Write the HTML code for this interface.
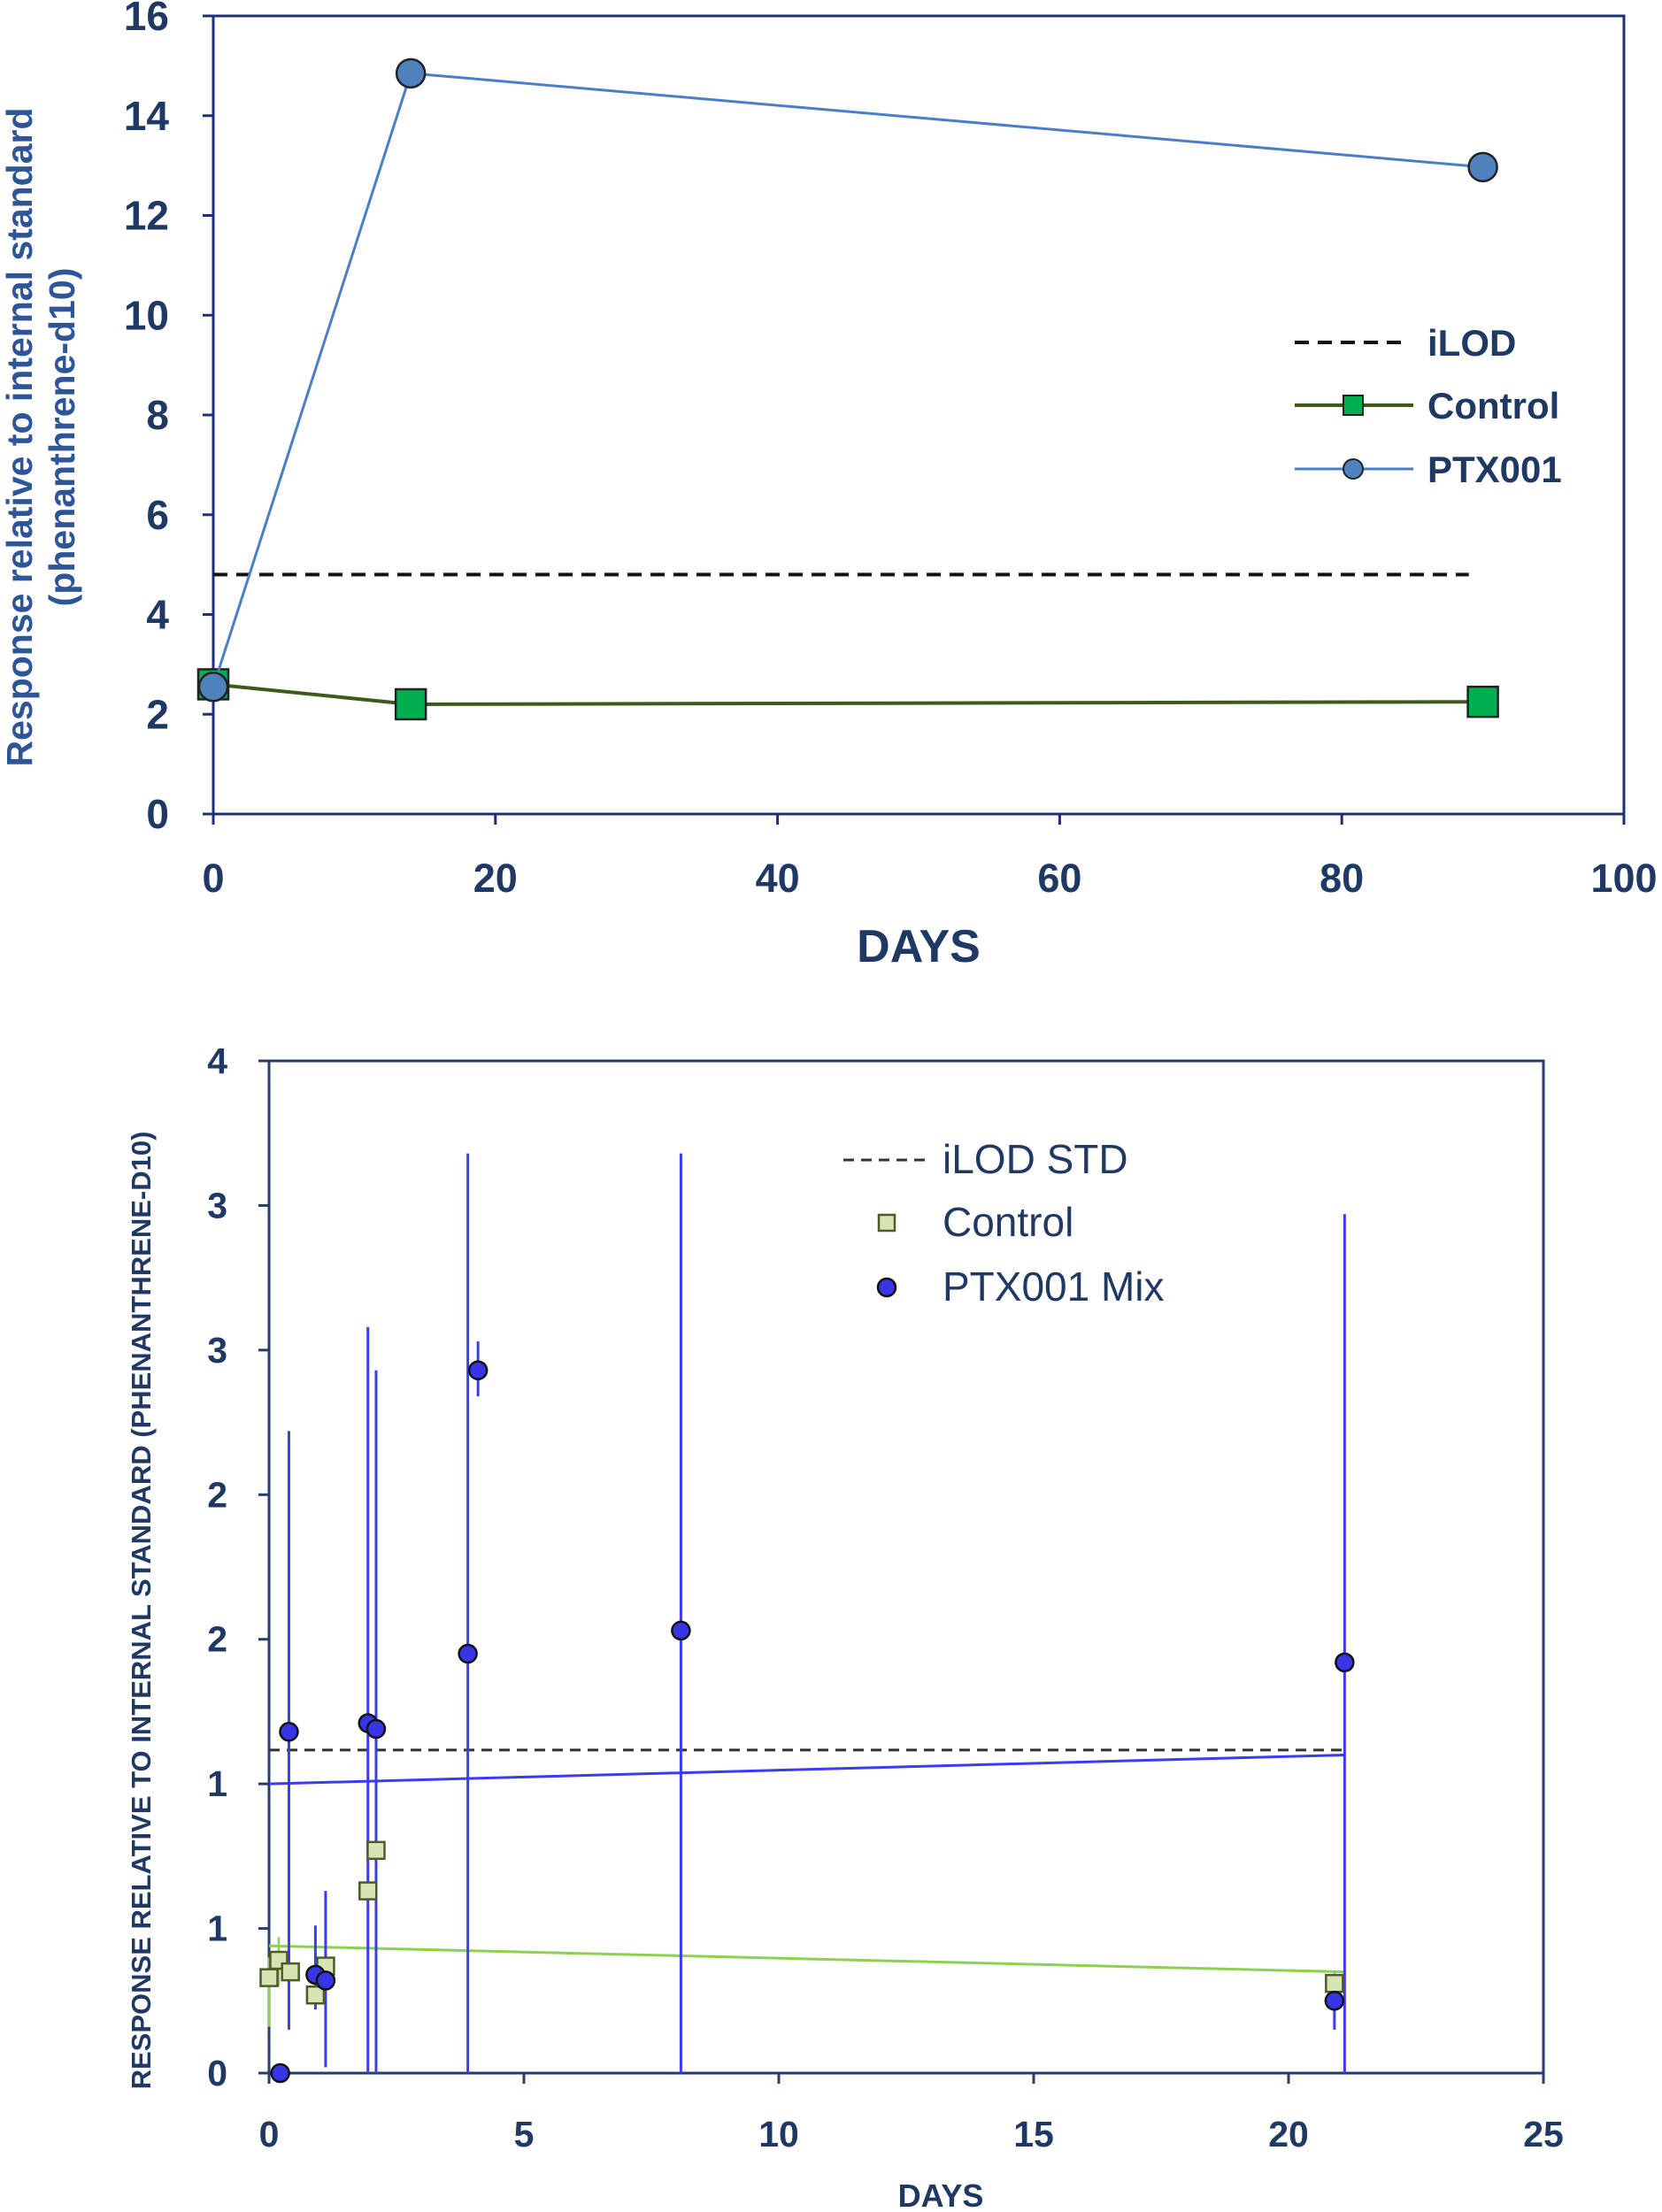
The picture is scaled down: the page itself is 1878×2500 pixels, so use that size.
<!DOCTYPE html>
<html><head><meta charset="utf-8"><style>
html,body{margin:0;padding:0;background:#fff}
svg{display:block}
text{font-family:"Liberation Sans Narrow","Liberation Sans",sans-serif}
</style></head><body>
<svg id="c" width="1878" height="2500" viewBox="0 0 1878 2500"></svg>
<script>
// ---- Top chart data ----
const topXTicks=[0,20,40,60,80,100];
const topYTicks=[0,2,4,6,8,10,12,14,16];
const topDays=[0,14,90];
const topControl=[2.6,2.2,2.25];
const topPTX=[2.55,14.85,12.97];
const topILOD=4.8;
const topILODEnd=89;
// ---- Bottom chart data ----
const botXTicks=[0,5,10,15,20,25];
const botYTicks=[0,0.5,1,1.5,2,2.5,3,3.5];
const botYLabels=["0","1","1","2","2","3","3","4"];
const ptxDays=[0.22,0.39,0.91,1.11,1.94,2.10,3.90,4.10,8.08,20.9,21.1];
const ptxVals=[0,1.18,0.34,0.32,1.21,1.19,1.45,2.43,1.53,0.25,1.42];
const ptxHi=[0,2.22,0.51,0.63,2.58,2.43,3.18,2.53,3.18,0.25,2.97];
const ptxLo=[0,0.15,0.22,0.02,0,0,0,2.34,0,0.15,0];
const ctrlDays=[0,0.19,0.42,0.91,1.11,1.94,2.10,20.9];
const ctrlVals=[0.33,0.39,0.35,0.27,0.37,0.63,0.77,0.31];
const ctrlHi=[0.4,0.47,0.38,0.3,0.4,0.65,0.79,0.35];
const ctrlLo=[0.16,0.3,0.32,0.24,0.34,0.61,0.75,0.28];
const ptxTrend=[1.0,1.10];
const ctrlTrend=[0.44,0.35];
const trendX=[0,21.1];
const botILOD=1.117;
const botILODEnd=21.1;

const NS="http://www.w3.org/2000/svg";
const svg=document.getElementById('c');
function mk(tag,attrs,parent){const e=document.createElementNS(NS,tag);for(const k in attrs)e.setAttribute(k,attrs[k]);(parent||svg).appendChild(e);return e;}
function txt(s,attrs,parent){const e=mk('text',attrs,parent);e.textContent=s;return e;}

// ===== TOP =====
const T={l:241,r:1835,t:18,b:920,x0:0,x1:100,y0:0,y1:16};
const tx=v=>T.l+(v-T.x0)/(T.x1-T.x0)*(T.r-T.l);
const ty=v=>T.b-(v-T.y0)/(T.y1-T.y0)*(T.b-T.t);
const navy="#1f3864";
let g=mk('g',{});


let e=mk('rect',{x:T.l,y:T.t,width:T.r-T.l,height:T.b-T.t,fill:'none',stroke:'#1f2f7a','stroke-width':3},g);

topYTicks.forEach(v=>{
  mk('line',{x1:T.l-12,x2:T.l,y1:ty(v),y2:ty(v),stroke:'#1f2f7a','stroke-width':3},g);
  e=txt(String(v),{x:T.l-50,y:ty(v)+16,'text-anchor':'end','font-size':46,'font-weight':'bold',fill:navy},g);
  
});
topXTicks.forEach(v=>{
  mk('line',{x1:tx(v),x2:tx(v),y1:T.b,y2:T.b+12,stroke:'#1f2f7a','stroke-width':3},g);
  e=txt(String(v),{x:tx(v),y:1008,'text-anchor':'middle','font-size':45,'font-weight':'bold',fill:navy},g);
  
});
e=txt('DAYS',{x:1038,y:1087,'text-anchor':'middle','font-size':52,'font-weight':'bold',fill:navy},g);

e=mk('g',{transform:'translate(0,494) rotate(-90)'},g);

txt('Response relative to internal standard',{x:0,y:36,'text-anchor':'middle','font-size':41,'font-weight':'bold',fill:'#2e5597',style:'font-family:"Liberation Sans",sans-serif'},e);
txt('(phenanthrene-d10)',{x:0,y:84,'text-anchor':'middle','font-size':41,'font-weight':'bold',fill:'#2e5597',style:'font-family:"Liberation Sans",sans-serif'},e);
// iLOD
e=mk('line',{x1:tx(0),x2:tx(topILODEnd),y1:ty(topILOD),y2:ty(topILOD),stroke:'#111','stroke-width':4,'stroke-dasharray':'16 10'},g);

// control
e=mk('polyline',{points:topDays.map((d,i)=>tx(d)+','+ty(topControl[i])).join(' '),fill:'none',stroke:'#3d5a1a','stroke-width':4},g);

topDays.forEach((d,i)=>{const m=mk('rect',{x:tx(d)-17,y:ty(topControl[i])-17,width:34,height:34,fill:'#00b050',stroke:'#222','stroke-width':2.5},g);
});
// ptx
e=mk('polyline',{points:topDays.map((d,i)=>tx(d)+','+ty(topPTX[i])).join(' '),fill:'none',stroke:'#4a7fc8','stroke-width':3},g);

topDays.forEach((d,i)=>{const m=mk('ellipse',{cx:tx(d),cy:ty(topPTX[i]),rx:16,ry:16,fill:'#4f81bd',stroke:'#222','stroke-width':2.5},g);
});
// legend
let lg=mk('g',{},g);
mk('line',{x1:1463,x2:1591,y1:387,y2:387,stroke:'#111','stroke-width':4,'stroke-dasharray':'16 10'},lg);
txt('iLOD',{x:1613,y:402,'font-size':42,'font-weight':'bold',fill:navy},lg);
mk('line',{x1:1463,x2:1597,y1:458,y2:458,stroke:'#3d5a1a','stroke-width':4},lg);
mk('rect',{x:1518,y:447,width:22,height:22,fill:'#00b050',stroke:'#222','stroke-width':2},lg);
txt('Control',{x:1613,y:473,'font-size':42,'font-weight':'bold',fill:navy},lg);
mk('line',{x1:1463,x2:1597,y1:530,y2:530,stroke:'#4a7fc8','stroke-width':3},lg);
mk('circle',{cx:1529,cy:530,r:11,fill:'#4f81bd',stroke:'#222','stroke-width':2},lg);
txt('PTX001',{x:1613,y:545,'font-size':42,'font-weight':'bold',fill:navy},lg);

// ===== BOTTOM =====
const B={l:304,r:1744,t:1199,b:2343,x0:0,x1:25,y0:0,y1:3.5};
const bx=v=>B.l+(v-B.x0)/(B.x1-B.x0)*(B.r-B.l);
const by=v=>B.b-(v-B.y0)/(B.y1-B.y0)*(B.b-B.t);
g=mk('g',{});


e=mk('rect',{x:B.l,y:B.t,width:B.r-B.l,height:B.b-B.t,fill:'none',stroke:'#2a3b6e','stroke-width':3},g);

botYTicks.forEach((v,i)=>{
  mk('line',{x1:B.l-12,x2:B.l,y1:by(v),y2:by(v),stroke:'#2a3b6e','stroke-width':3},g);
  e=txt(botYLabels[i],{x:257,y:by(v)+14,'text-anchor':'end','font-size':41,'font-weight':'bold',fill:navy,style:'font-family:"Liberation Sans",sans-serif'},g);
  
});
botXTicks.forEach(v=>{
  mk('line',{x1:bx(v),x2:bx(v),y1:B.b,y2:B.b+12,stroke:'#2a3b6e','stroke-width':3},g);
  e=txt(String(v),{x:bx(v),y:2426,'text-anchor':'middle','font-size':41,'font-weight':'bold',fill:navy,style:'font-family:"Liberation Sans",sans-serif'},g);
  
});
e=txt('DAYS',{x:1063,y:2494,'text-anchor':'middle','font-size':36,'font-weight':'bold',fill:navy},g);

e=txt('RESPONSE RELATIVE TO INTERNAL STANDARD (PHENANTHRENE-D10)',{x:0,y:0,transform:'translate(170,1820) rotate(-90)','text-anchor':'middle','font-size':31,'font-weight':'bold',fill:navy},g);

// iLOD
e=mk('line',{x1:bx(0),x2:bx(botILODEnd),y1:by(botILOD),y2:by(botILOD),stroke:'#333','stroke-width':3,'stroke-dasharray':'12 8'},g);

// trends
e=mk('line',{x1:bx(trendX[0]),x2:bx(trendX[1]),y1:by(ptxTrend[0]),y2:by(ptxTrend[1]),stroke:'#3b3bf0','stroke-width':3},g);

e=mk('line',{x1:bx(trendX[0]),x2:bx(trendX[1]),y1:by(ctrlTrend[0]),y2:by(ctrlTrend[1]),stroke:'#8fd14f','stroke-width':3},g);

// control error bars
ctrlDays.forEach((d,i)=>{const l=mk('line',{x1:bx(d),x2:bx(d),y1:by(ctrlHi[i]),y2:by(ctrlLo[i]),stroke:'#8fd14f','stroke-width':2.5},g);
});
// ptx error bars
ptxDays.forEach((d,i)=>{const l=mk('line',{x1:bx(d),x2:bx(d),y1:by(ptxHi[i]),y2:by(ptxLo[i]),stroke:'#3b3bf0','stroke-width':3},g);
});
ctrlDays.forEach((d,i)=>{const m=mk('rect',{x:bx(d)-9.5,y:by(ctrlVals[i])-9.5,width:19,height:19,fill:'#d7e4b3',stroke:'#4d5a2a','stroke-width':2.5},g);
});
ptxDays.forEach((d,i)=>{const m=mk('circle',{cx:bx(d),cy:by(ptxVals[i]),r:10,fill:'#3636e6',stroke:'#111','stroke-width':2.5},g);
});
// legend
lg=mk('g',{},g);
mk('line',{x1:953,x2:1052,y1:1311,y2:1311,stroke:'#333','stroke-width':3,'stroke-dasharray':'12 8'},lg);
txt('iLOD STD',{x:1065,y:1326,'font-size':46,fill:navy},lg);
mk('rect',{x:993,y:1373,width:18,height:18,fill:'#d7e4b3',stroke:'#4d5a2a','stroke-width':2.5},lg);
txt('Control',{x:1065,y:1397,'font-size':46,fill:navy},lg);
mk('circle',{cx:1002,cy:1455,r:10,fill:'#3636e6',stroke:'#111','stroke-width':2.5},lg);
txt('PTX001 Mix',{x:1065,y:1470,'font-size':46,fill:navy},lg);
</script>
</body></html>
